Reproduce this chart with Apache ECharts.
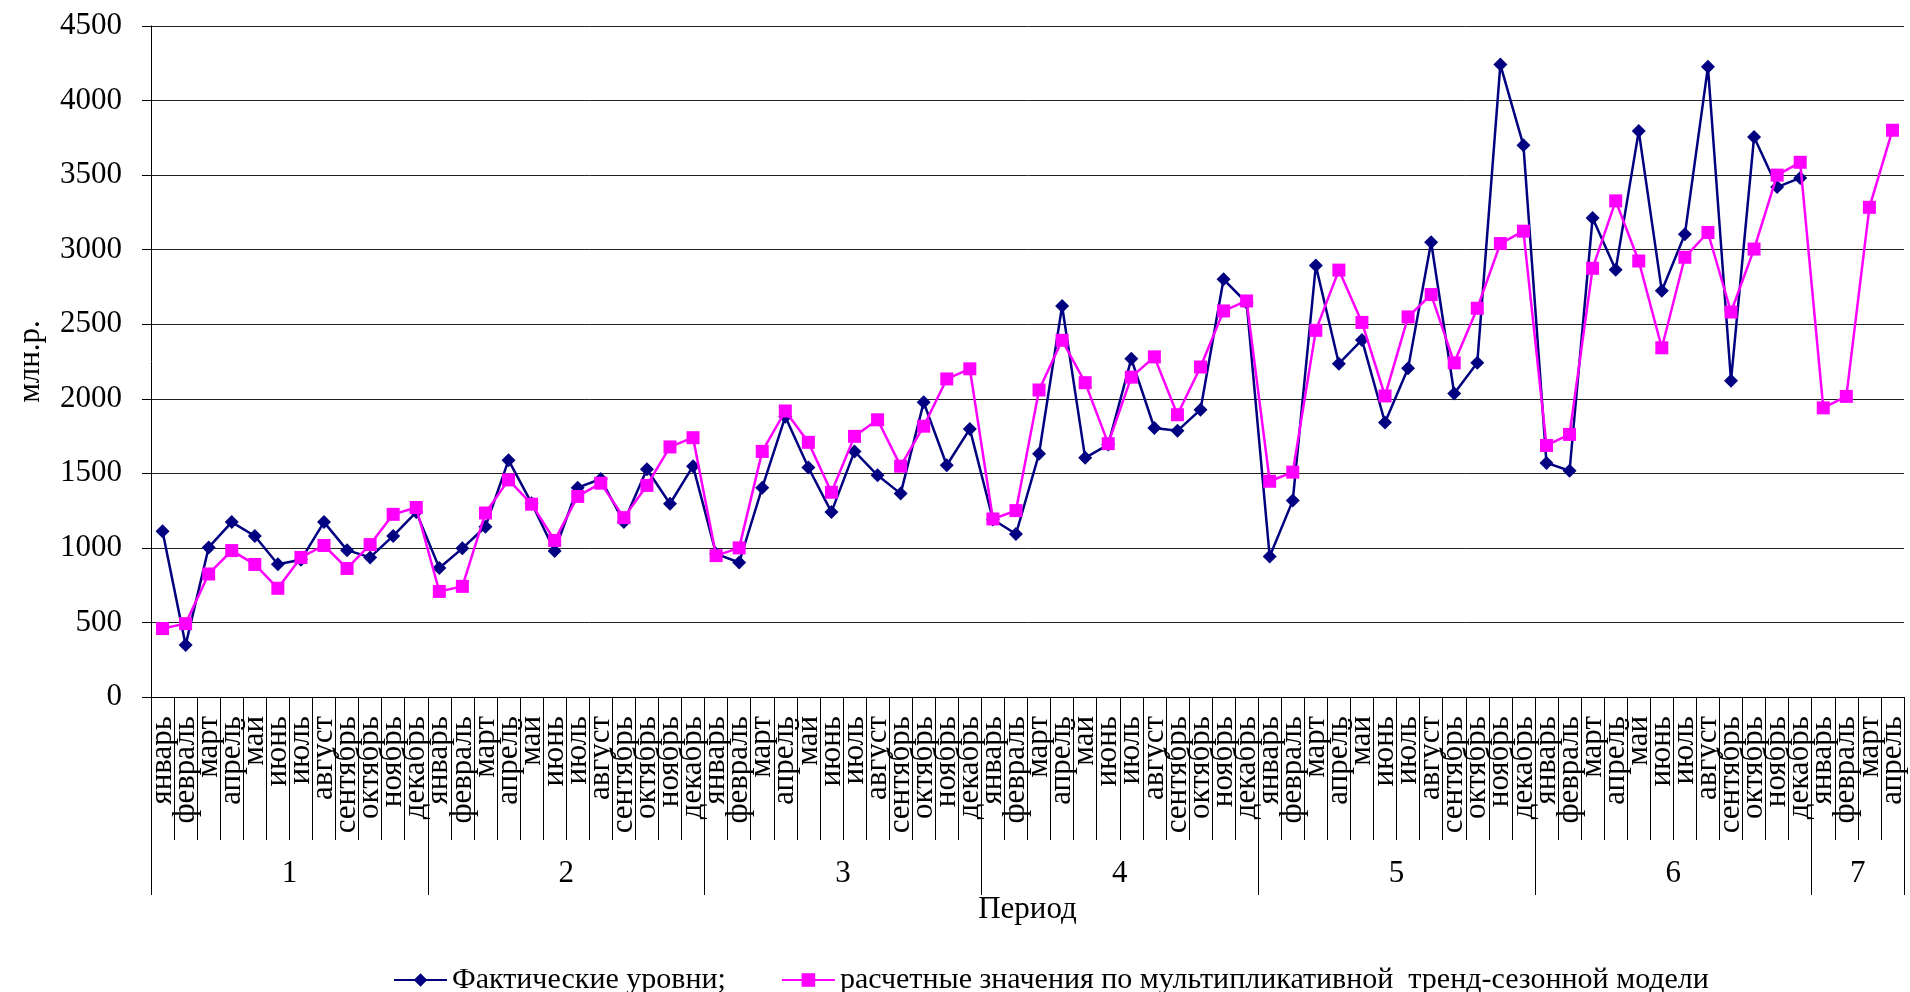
<!DOCTYPE html>
<html>
<head>
<meta charset="utf-8">
<title>Фактические и расчетные уровни</title>
<script src="https://cdn.jsdelivr.net/npm/echarts@6/dist/echarts.min.js"></script>
<style>
  html, body { margin: 0; padding: 0; background: #fff; }
  #chart { width: 1910px; height: 992px; }
</style>
</head>
<body>
<div id="chart"></div>
<script>
// Months of a year and the periods (years) shown on the lower axis level
const months = ['январь', 'февраль', 'март', 'апрель', 'май', 'июнь',
                'июль', 'август', 'сентябрь', 'октябрь', 'ноябрь', 'декабрь'];
const periodLabels = ['1', '2', '3', '4', '5', '6', '7'];
const periodLengths = [12, 12, 12, 12, 12, 12, 4];

// Y axis ticks, млн.р.
const yTicks = [0, 500, 1000, 1500, 2000, 2500, 3000, 3500, 4000, 4500];

// Фактические уровни (periods 1–6)
const actual = [
  1111, 348, 1003, 1173, 1080, 890, 920, 1173, 985, 936, 1080, 1240,
  865, 997, 1142, 1588, 1300, 979, 1404, 1462, 1173, 1527, 1296, 1548,
  960, 902, 1404, 1880, 1539, 1240, 1647, 1487, 1364, 1976, 1554, 1798,
  1190, 1093, 1631, 2622, 1604, 1693, 2268, 1804, 1785, 1927, 2801, 2644,
  942, 1317, 2893, 2235, 2395, 1841, 2204, 3050, 2035, 2241, 4241, 3700,
  1570, 1517, 3213, 2866, 3795, 2724, 3103, 4226, 2121, 3755, 3420, 3481
];

// Расчетные значения по мультипликативной тренд-сезонной модели (periods 1–7)
const model = [
  459, 492, 825, 982, 889, 729, 936, 1016, 862, 1022, 1225, 1271,
  708, 742, 1234, 1456, 1293, 1050, 1345, 1434, 1203, 1419, 1677, 1739,
  948, 1000, 1647, 1918, 1708, 1373, 1748, 1859, 1548, 1816, 2133, 2201,
  1194, 1250, 2059, 2392, 2108, 1699, 2145, 2281, 1893, 2213, 2589, 2656,
  1447, 1508, 2459, 2863, 2512, 2019, 2549, 2699, 2241, 2607, 3041, 3124,
  1687, 1761, 2875, 3327, 2924, 2342, 2949, 3115, 2582, 3004, 3500, 3586,
  1939, 2016, 3284, 3801
];

const seriesNames = ['Фактические уровни;',
  'расчетные значения по мультипликативной  тренд-сезонной модели'];

// Month categories for every period
const categories = [];
periodLengths.forEach(function (len) {
  for (let m = 0; m < len; m++) categories.push(months[m]);
});

// Period boundaries and centres in category units
const boundaries = [0];
const centres = [];
periodLengths.forEach(function (len) {
  const start = boundaries[boundaries.length - 1];
  centres.push(start + len / 2);
  boundaries.push(start + len);
});
const total = boundaries[boundaries.length - 1];

const FONT = "'Liberation Serif', 'Times New Roman', serif";
const black = '#000';

const chart = echarts.init(document.getElementById('chart'), null, { renderer: 'canvas' });

chart.setOption({
  backgroundColor: '#fff',
  animation: false,
  textStyle: { fontFamily: FONT, color: black },
  grid: {
    left: 151, right: 6, top: 26, bottom: 295,
    containLabel: false,
    outerBoundsMode: 'none'
  },
  legend: {
    left: 388,
    top: 960,
    itemWidth: 53,
    itemHeight: 17,
    itemGap: 55,
    textStyle: { fontFamily: FONT, fontSize: 30, color: black },
    data: seriesNames
  },
  xAxis: [
    {
      type: 'category',
      data: categories,
      boundaryGap: true,
      position: 'bottom',
      axisLine: { show: true, lineStyle: { color: black, width: 1 } },
      axisTick: { show: true, interval: 0, length: 143, lineStyle: { color: black, width: 1 } },
      axisLabel: {
        interval: 0,
        rotate: 90,
        margin: 19,
        fontFamily: FONT,
        fontSize: 31,
        color: black
      },
      splitLine: { show: false }
    },
    {
      type: 'value',
      min: 0,
      max: total,
      position: 'bottom',
      name: 'Период',
      nameLocation: 'middle',
      nameGap: 190,
      nameTextStyle: { fontFamily: FONT, fontSize: 31, color: black },
      axisLine: { show: false },
      axisTick: {
        show: true,
        length: 198,
        customValues: boundaries,
        lineStyle: { color: black, width: 1 }
      },
      axisLabel: {
        show: true,
        margin: 161,
        customValues: centres,
        fontFamily: FONT,
        fontSize: 31,
        color: black,
        formatter: function (v) {
          const i = centres.indexOf(v);
          return i >= 0 ? periodLabels[i] : '';
        }
      },
      splitLine: { show: false }
    }
  ],
  yAxis: {
    type: 'value',
    min: yTicks[0],
    max: yTicks[yTicks.length - 1],
    interval: yTicks[1] - yTicks[0],
    name: 'млн.р.',
    nameLocation: 'middle',
    nameGap: 105,
    nameTextStyle: { fontFamily: FONT, fontSize: 31, color: black },
    axisLine: { show: true, lineStyle: { color: black, width: 1 } },
    axisTick: { show: true, length: 9, lineStyle: { color: black, width: 1 } },
    axisLabel: {
      margin: 29,
      fontFamily: FONT,
      fontSize: 31,
      color: black,
      formatter: function (v) { return String(v); }
    },
    splitLine: { show: true, lineStyle: { color: '#222', width: 1 } }
  },
  series: [
    {
      name: seriesNames[0],
      type: 'line',
      xAxisIndex: 0,
      data: actual,
      symbol: 'diamond',
      symbolSize: 14,
      showAllSymbol: true,
      lineStyle: { color: '#000080', width: 2.5 },
      itemStyle: { color: '#000080' },
      z: 2
    },
    {
      name: seriesNames[1],
      type: 'line',
      xAxisIndex: 0,
      data: model,
      symbol: 'rect',
      symbolSize: 13,
      showAllSymbol: true,
      lineStyle: { color: '#ff00ff', width: 2.5 },
      itemStyle: { color: '#ff00ff' },
      z: 3
    }
  ]
});
</script>
</body>
</html>
